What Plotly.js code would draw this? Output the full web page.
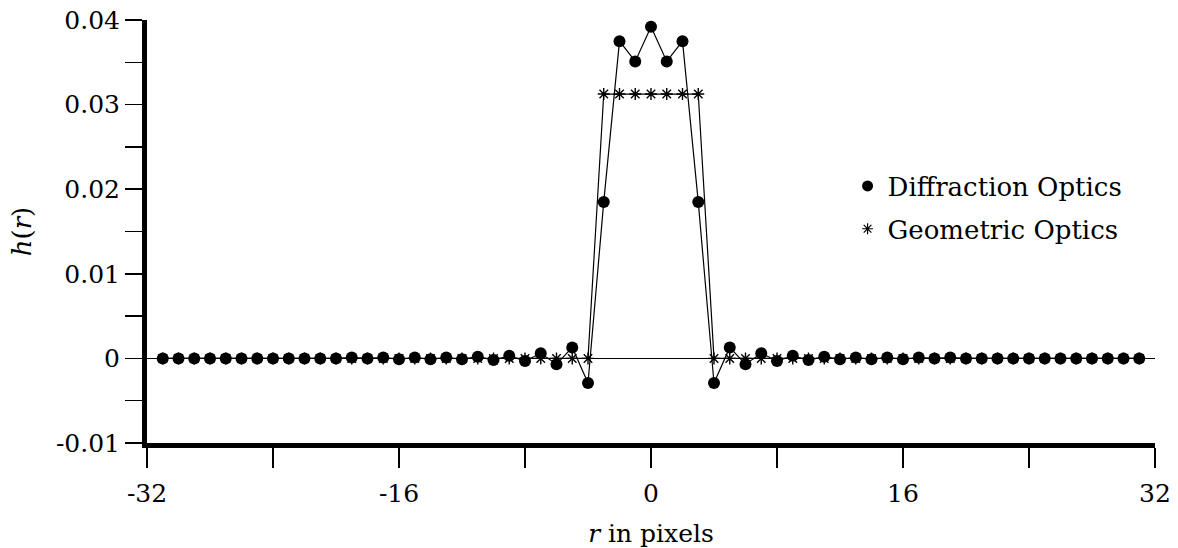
<!DOCTYPE html>
<html>
<head>
<meta charset="utf-8">
<script src="https://cdn.plot.ly/plotly-3.0.1.min.js"></script>
<style>
  html, body { margin: 0; padding: 0; background: #fff; }
  #chart { width: 1178px; height: 548px; }
</style>
</head>
<body>
<div id="chart"></div>
<script>
// Sample positions (pixels) shared by both point-spread functions
const rSamples = [];
for (let i = -31; i <= 31; i++) rSamples.push(i);

// Diffraction optics h(r) for r = 0..31 (profile is symmetric)
const hDiffractionHalf = [
  0.0392, 0.0351, 0.0375, 0.0185, -0.0029, 0.0013, -0.0007, 0.0006,
  -0.0003, 0.0003, -0.0002, 0.0002, -0.0001, 0.0001, -0.0001, 0.0001,
  -0.0001, 0.0001, 0.0000, 0.0001, 0.0000, 0.0000, 0.0000, 0.0000,
  0.0000, 0.0000, 0.0000, 0.0000, 0.0000, 0.0000, 0.0000, 0.0000
];

// Geometric optics: uniform blur disc of 7 pixels (height 1/32), r = 0..31
const hGeometricHalf = [
  0.03125, 0.03125, 0.03125, 0.03125, 0, 0, 0, 0, 0, 0, 0, 0, 0, 0, 0, 0,
  0, 0, 0, 0, 0, 0, 0, 0, 0, 0, 0, 0, 0, 0, 0, 0
];

// Axis ticks
const xTickVals = [-32, -16, 0, 16, 32];
const xTickText = ['-32', '-16', '0', '16', '32'];
const yTickVals = [-0.01, 0, 0.01, 0.02, 0.03, 0.04];
const yTickText = ['-0.01', '0', '0.01', '0.02', '0.03', '0.04'];

const legendNames = ['Diffraction Optics', 'Geometric Optics'];

// Mirror the half profiles onto the full sample grid
const hDiffraction = rSamples.map(r => hDiffractionHalf[Math.abs(r)]);
const hGeometric = rSamples.map(r => hGeometricHalf[Math.abs(r)]);

const FONT = 'DejaVu Serif, Liberation Serif, serif';

const traces = [
  {
    x: rSamples, y: hGeometric, type: 'scatter', mode: 'lines+markers',
    line: { color: '#000', width: 1.2 },
    marker: { symbol: 'asterisk-open', size: 10, color: '#000', line: { color: '#000', width: 1.4 } },
    showlegend: false, hoverinfo: 'skip'
  },
  {
    x: rSamples, y: hDiffraction, type: 'scatter', mode: 'lines+markers',
    line: { color: '#000', width: 1.2 },
    marker: { symbol: 'circle', size: 12, color: '#000' },
    showlegend: false
  },
  // legend entries (symbol only)
  {
    x: [null], y: [null], type: 'scatter', mode: 'markers', name: legendNames[0],
    legendgroup: 'diffraction',
    marker: { symbol: 'circle', size: 11, color: '#000' }
  },
  {
    x: [null], y: [null], type: 'scatter', mode: 'markers', name: legendNames[1],
    legendgroup: 'geometric',
    marker: { symbol: 'asterisk-open', size: 9, color: '#000', line: { color: '#000', width: 1.2 } }
  }
];

const layout = {
  width: 1178, height: 548,
  margin: { l: 147, r: 23, t: 20, b: 105 },
  paper_bgcolor: '#fff', plot_bgcolor: '#fff',
  font: { family: FONT, size: 25, color: '#000' },
  showlegend: true,
  legend: {
    x: 0.695, y: 0.663, xanchor: 'left', yanchor: 'top',
    bgcolor: 'rgba(0,0,0,0)', borderwidth: 0,
    font: { family: FONT, size: 26, color: '#000' },
    itemsizing: 'trace', tracegroupgap: 6
  },
  xaxis: {
    range: [-32, 32], showgrid: false, zeroline: false,
    showline: true, linecolor: '#000', linewidth: 5,
    tickmode: 'array', tickvals: xTickVals, ticktext: xTickText,
    ticks: 'outside', ticklen: 20, tickwidth: 1.5, tickcolor: '#000',
    ticklabelstandoff: 4,
    minor: { dtick: 8, tick0: 0, ticks: 'outside', ticklen: 20, tickwidth: 1.5, tickcolor: '#000' },
    tickfont: { family: FONT, size: 25 },
    title: { text: '<i>r</i> in pixels', font: { family: FONT, size: 25 }, standoff: 20 }
  },
  yaxis: {
    range: [-0.01, 0.04], showgrid: false,
    zeroline: true, zerolinecolor: '#000', zerolinewidth: 1,
    showline: true, linecolor: '#000', linewidth: 5,
    tickmode: 'array', tickvals: yTickVals, ticktext: yTickText,
    ticks: 'outside', ticklen: 17, tickwidth: 1.5, tickcolor: '#000',
    minor: { dtick: 0.005, tick0: 0, ticks: 'outside', ticklen: 17, tickwidth: 1.5, tickcolor: '#000' },
    tickfont: { family: FONT, size: 25 },
    title: { text: '<i>h</i>(<i>r</i>)', font: { family: FONT, size: 26 }, standoff: 18 }
  }
};

Plotly.newPlot('chart', traces, layout, { staticPlot: true, displayModeBar: false });
</script>
</body>
</html>
